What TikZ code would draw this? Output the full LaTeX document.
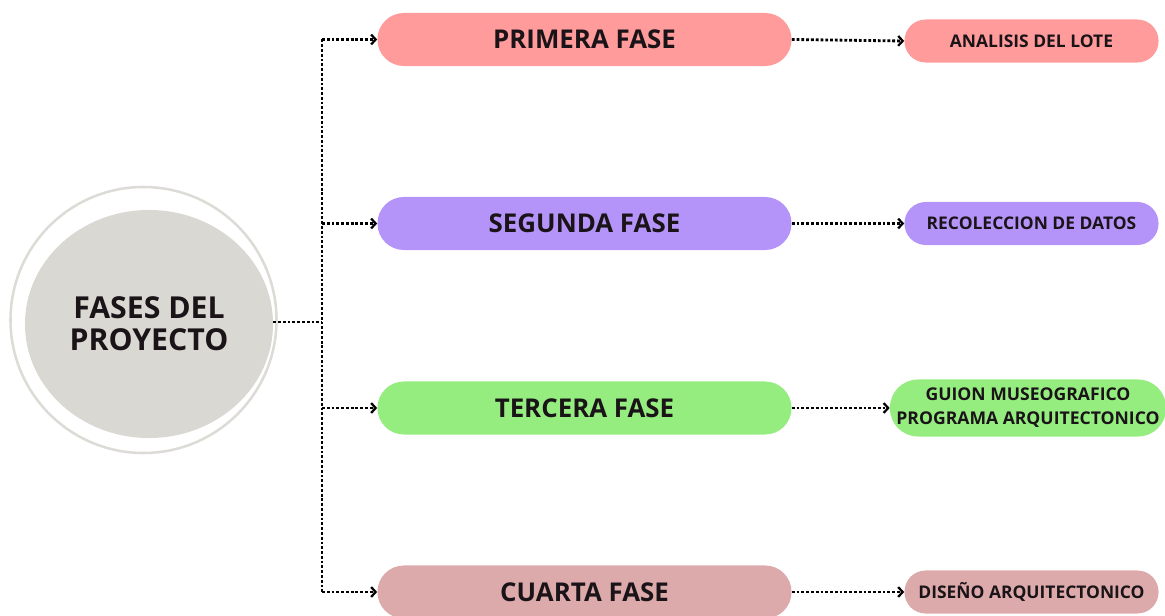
\documentclass[tikz,border=0pt]{standalone}
\usepackage{fontspec}
\setmainfont{Open Sans}
\usepackage{tikz}
\usetikzlibrary{shapes.geometric, arrows.meta}

\definecolor{hubgray}{HTML}{DAD8D2}
\definecolor{ringgray}{HTML}{DDDBD6}
\definecolor{fasepink}{HTML}{FF9B9B}
\definecolor{faselila}{HTML}{B594F9}
\definecolor{faseverde}{HTML}{95EC7F}
\definecolor{faserosa}{HTML}{DCAAAA}
\definecolor{textdark}{HTML}{1A1418}

\tikzset{
  link/.style={line width=2pt, dash pattern=on 2pt off 1.4pt, black},
  fase/.style={minimum width=10.35cm, minimum height=1.325cm, rounded corners=0.66cm,
    font=\fontsize{18.4}{20}\selectfont\bfseries, text=textdark},
  tarea/.style={minimum width=6.35cm, minimum height=1.075cm, rounded corners=0.53cm,
    font=\fontsize{12.4}{14}\selectfont\bfseries, text=textdark, align=center},
}

\begin{document}
\begin{tikzpicture}[x=0.025cm, y=-0.025cm, >={Straight Barb[length=3.2pt, width=7pt, line width=1.6pt]}]
    \useasboundingbox (0,0) rectangle (1165,616);
    \draw[ringgray, line width=1.8pt] (143.5,320) circle (133);
    \node[ellipse, fill=hubgray, minimum width=6.2cm, minimum height=5.7cm, align=center,
      font=\fontsize{21.5}{22.5}\selectfont\bfseries, text=textdark] (hub) at (149,324) {FASES DEL\\PROYECTO};
    \coordinate (trunk) at (322,322);
    % fases
    \node[fase, fill=fasepink] (p1) at (584.5,39.5) {PRIMERA FASE};
    \node[fase, fill=faselila] (p2) at (584.5,223.5) {SEGUNDA FASE};
    \node[fase, fill=faseverde] (p3) at (584.5,408) {TERCERA FASE};
    \node[fase, fill=faserosa] (p4) at (584.5,592) {CUARTA FASE};
    % resultados
    \node[tarea, fill=fasepink] (r1) at (1031.5,41) {ANALISIS DEL LOTE};
    \node[tarea, fill=faselila] (r2) at (1031.5,223.5) {RECOLECCION DE DATOS};
    \node[tarea, fill=faseverde, minimum width=6.9cm, minimum height=1.425cm, rounded corners=0.7cm,
      font=\fontsize{12.5}{17}\selectfont\bfseries] (r3) at (1028,408) {GUION MUSEOGRAFICO\\PROGRAMA ARQUITECTONICO};
    \node[tarea, fill=faserosa] (r4) at (1031.5,592) {DISEÑO ARQUITECTONICO};
    % conectores
    \draw[link] (hub.east |- trunk) -- (trunk);
    \draw[link] (trunk |- p1.west) -- (trunk |- p4.west);
    \foreach \i in {1,...,4} {
        \draw[link, ->] (trunk |- p\i.west) -- (p\i.west);
        \draw[link, ->] (p\i.east) -- (r\i.west);
    }
\end{tikzpicture}
\end{document}
